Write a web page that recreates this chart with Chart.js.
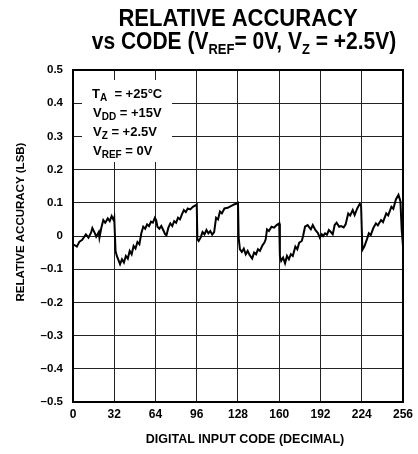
<!DOCTYPE html>
<html>
<head>
<meta charset="utf-8">
<script src="https://cdn.jsdelivr.net/npm/chart.js@4.4.0/dist/chart.umd.min.js"></script>
<style>
  html, body { margin: 0; padding: 0; background: #fff; }
  #wrap { width: 418px; height: 454px; position: relative; }
</style>
</head>
<body>
<div id="wrap"><canvas id="accChart" width="418" height="454"></canvas></div>
<script>
// digital input code (x) and relative accuracy in LSB (y)
const codes = [
  0, 1.5, 3, 5, 7, 10, 12, 14, 15, 17, 18, 20, 20.5, 22, 23.5, 25, 27, 28.5, 30, 31.5, 32,
  33, 34, 35.5, 36.5, 38, 39.5, 41, 42.5, 44, 45.5, 47, 48.5, 50, 51.5, 53, 54.5, 56, 57.5, 59,
  60.5, 62, 63.5, 64.5, 65.5, 67, 68.5, 70, 71.5, 72.5, 74, 75.5, 77, 78.5, 80, 81.5, 83, 84.5,
  86, 87.5, 89, 91, 93, 95, 96,
  96.5, 97.5, 99, 100.5, 102, 103.5, 105, 106.5, 108, 109.5, 111, 112.5, 114, 115.5, 117.5,
  120, 122.5, 125, 127, 128,
  128.5, 129.5, 131, 132.5, 134, 135.5, 137, 139, 140.5, 142, 143.5, 145, 147, 148.5, 149.5,
  150.5, 152, 154, 156, 158, 160,
  160.5, 161.5, 163, 164.5, 166, 167.5, 169, 170.5, 172.5, 174, 175.5, 177.5, 178.5, 180, 182,
  183.5, 184.5, 186, 188, 190, 191.5, 193, 194, 195.5, 197, 198.5, 200, 201.5, 203, 204.5,
  206.5, 208, 210, 211.5, 213.5, 215, 217, 218.5, 220.5, 222.5, 223.5,
  224.5, 226, 228, 229.5, 231, 233, 235, 236.5, 239, 240.5, 243, 244.5, 247, 248.5, 250.5,
  252.5, 254, 255, 256
];
const accuracy = [
  -0.025, -0.028, -0.032, -0.017, -0.012, 0.005, -0.005, 0.010, 0.024, 0.008, -0.002, 0.012, -0.005, 0.025, 0.048, 0.040, 0.053, 0.045, 0.060, 0.048, 0.055,
  -0.045, -0.060, -0.075, -0.085, -0.070, -0.080, -0.060, -0.068, -0.045, -0.055, -0.030, -0.038, -0.018, -0.025, 0.008, 0.028, 0.022, 0.035, 0.030,
  0.043, 0.040, 0.055, 0.048, 0.028, 0.022, 0.030, 0.018, 0.005, 0.002, 0.025, 0.038, 0.030, 0.045, 0.040, 0.055, 0.050, 0.065,
  0.078, 0.072, 0.083, 0.080, 0.088, 0.092, 0.095,
  -0.010, -0.015, -0.005, 0.012, 0.005, 0.018, 0.008, 0.015, 0.004, 0.012, 0.055, 0.050, 0.074, 0.068, 0.083,
  0.085, 0.090, 0.095, 0.098, 0.100,
  -0.005, -0.040, -0.048, -0.038, -0.055, -0.045, -0.057, -0.068, -0.050, -0.055, -0.040, -0.045, -0.028, -0.020, -0.010,
  0.020, 0.015, 0.028, 0.025, 0.033, 0.038,
  -0.060, -0.075, -0.065, -0.082, -0.060, -0.070, -0.055, -0.060, -0.032, -0.040, -0.020, -0.015, 0.000, 0.028, 0.033,
  0.025, 0.020, 0.033, 0.018, 0.009, -0.005, 0.005, 0.000, 0.008, 0.004, 0.018, 0.012, 0.005, 0.033, 0.040,
  0.028, 0.030, 0.026, 0.035, 0.068, 0.062, 0.078, 0.063, 0.083, 0.097, 0.090,
  -0.042, -0.032, -0.010, 0.008, 0.003, 0.024, 0.038, 0.032, 0.048, 0.042, 0.068, 0.062, 0.088, 0.082, 0.110,
  0.124, 0.105, 0.018, -0.030
];
const xTickLabels = ['0', '32', '64', '96', '128', '160', '192', '224', '256'];
const yTickLabels = ['\u20130.5', '\u20130.4', '\u20130.3', '\u20130.2', '\u20130.1', '0', '0.1', '0.2', '0.3', '0.4', '0.5'];

const FONT = '"Liberation Sans", Arial, Helvetica, sans-serif';

// draw a run of text pieces, some as subscripts; returns width
function richWidth(ctx, parts, size, subSize) {
  let w = 0;
  parts.forEach(p => {
    ctx.font = 'bold ' + (p[1] ? subSize : size) + 'px ' + FONT;
    w += ctx.measureText(p[0]).width;
  });
  return w;
}
function drawRich(ctx, parts, x, y, size, subSize, subDrop) {
  ctx.textAlign = 'left';
  ctx.textBaseline = 'alphabetic';
  parts.forEach(p => {
    ctx.font = 'bold ' + (p[1] ? subSize : size) + 'px ' + FONT;
    ctx.fillText(p[0], x, p[1] ? y + subDrop : y);
    x += ctx.measureText(p[0]).width;
  });
}

const decorations = {
  id: 'decorations',
  beforeDatasetsDraw(chart) {
    const c = chart.ctx;
    c.save();
    // white panel that hides the grid behind the conditions
    c.fillStyle = '#fff';
    c.fillRect(82, 80, 90, 82);
    c.fillStyle = '#000';
    drawRich(c, [['T', 0], ['A', 1], ['  = +25\u00b0C', 0]], 92, 98, 13, 10, 3);
    drawRich(c, [['V', 0], ['DD', 1], [' = +15V', 0]], 93, 117, 13, 10, 3);
    drawRich(c, [['V', 0], ['Z', 1], [' = +2.5V', 0]], 93, 136, 13, 10, 3);
    drawRich(c, [['V', 0], ['REF', 1], [' = 0V', 0]], 93, 155, 13, 10, 3);
    c.restore();
  },
  afterDraw(chart) {
    const c = chart.ctx;
    const a = chart.chartArea;
    c.save();
    c.strokeStyle = '#000';
    c.lineWidth = 2;
    c.strokeRect(a.left, a.top, a.right - a.left, a.bottom - a.top);

    c.fillStyle = '#000';
    // title, drawn slightly stretched vertically like the original lettering
    c.save();
    c.scale(1, 1.1);
    c.font = 'bold 22px ' + FONT;
    c.textAlign = 'center';
    c.textBaseline = 'alphabetic';
    c.fillText('RELATIVE ACCURACY', 238, 24);
    const t2 = [['vs CODE (V', 0], ['REF', 1], ['= 0V, V', 0], ['Z', 1], [' = +2.5V)', 0]];
    const w2 = richWidth(c, t2, 21, 13);
    drawRich(c, t2, 244 - w2 / 2, 44.5, 21, 13, 4.5);
    c.restore();

    // axis titles
    c.font = 'bold 12.5px ' + FONT;
    c.textAlign = 'center';
    c.textBaseline = 'middle';
    c.fillText('DIGITAL INPUT CODE (DECIMAL)', 245, 440);
    c.translate(21, 222);
    c.rotate(-Math.PI / 2);
    c.font = 'bold 11.5px ' + FONT;
    c.fillText('RELATIVE ACCURACY (LSB)', 0, 0);
    c.restore();
  }
};

const ctx = document.getElementById('accChart').getContext('2d');

const chart = new Chart(ctx, {
  type: 'line',
  data: {
    datasets: [{
      data: codes.map((x, i) => ({ x: x, y: accuracy[i] })),
      borderColor: '#000',
      borderWidth: 2,
      fill: false,
      pointRadius: 0,
      tension: 0
    }]
  },
  options: {
    responsive: false,
    animation: false,
    layout: { padding: { left: 0, top: 70, right: 13, bottom: 0 } },
    scales: {
      x: {
        type: 'linear',
        min: 0,
        max: 256,
        afterFit: s => { s.height = 52; },
        afterBuildTicks: s => { s.ticks = xTickLabels.map(t => ({ value: Number(t) })); },
        ticks: {
          padding: 5,
          color: '#000',
          font: { family: FONT, size: 12, weight: 'bold' },
          maxRotation: 0,
          autoSkip: false,
          callback: (v, i) => xTickLabels[i]
        },
        grid: { color: '#222', lineWidth: 1, drawTicks: false },
        border: { display: false }
      },
      y: {
        min: -0.5,
        max: 0.5,
        afterFit: s => { s.width = 73; },
        afterBuildTicks: s => { s.ticks = yTickLabels.map((t, i) => ({ value: -0.5 + i * 0.1 })); },
        ticks: {
          padding: 10,
          color: '#000',
          font: { family: FONT, size: 11.5, weight: 'bold' },
          autoSkip: false,
          callback: (v, i) => yTickLabels[i]
        },
        grid: { color: '#222', lineWidth: 1, drawTicks: false },
        border: { display: false }
      }
    },
    plugins: {
      legend: { display: false },
      tooltip: { enabled: false }
    }
  },
  plugins: [decorations]
});
</script>
</body>
</html>
